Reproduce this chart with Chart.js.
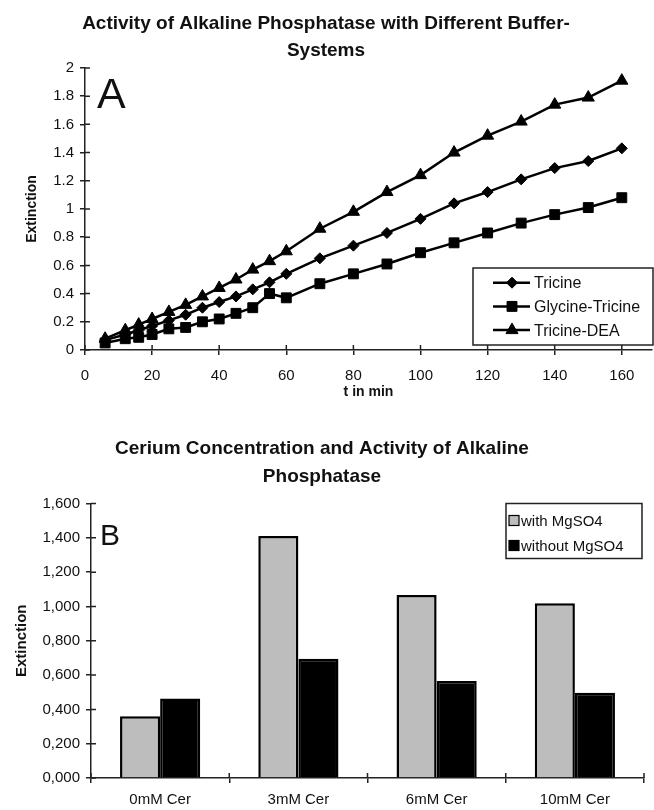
<!DOCTYPE html>
<html>
<head>
<meta charset="utf-8">
<script src="https://cdn.jsdelivr.net/npm/chart.js@4.4.0/dist/chart.umd.min.js"></script>
<style>
  html, body { margin: 0; padding: 0; background: #fff; }
  #wrap { position: relative; width: 654px; height: 810px; }
  #lineChart { position: absolute; left: 0; top: 0; }
  #barChart { position: absolute; left: 0; top: 410px; }
</style>
</head>
<body>
<div id="wrap">
  <canvas id="lineChart" width="654" height="410"></canvas>
  <canvas id="barChart" width="654" height="400"></canvas>
</div>
<script>
// panel A: extinction over time for three buffers
const times = [6, 12, 16, 20, 25, 30, 35, 40, 45, 50, 55, 60, 70, 80, 90, 100, 110, 120, 130, 140, 150, 160];
const tricine = [0.07, 0.11, 0.14, 0.17, 0.21, 0.25, 0.30, 0.34, 0.38, 0.43, 0.48, 0.54, 0.65, 0.74, 0.83, 0.93, 1.04, 1.12, 1.21, 1.29, 1.34, 1.43];
const glycineTricine = [0.05, 0.08, 0.09, 0.11, 0.15, 0.16, 0.20, 0.22, 0.26, 0.30, 0.40, 0.37, 0.47, 0.54, 0.61, 0.69, 0.76, 0.83, 0.90, 0.96, 1.01, 1.08];
const tricineDea = [0.08, 0.14, 0.18, 0.22, 0.27, 0.32, 0.38, 0.44, 0.50, 0.57, 0.63, 0.70, 0.86, 0.98, 1.12, 1.24, 1.40, 1.52, 1.62, 1.74, 1.79, 1.91];

// panel B: cerium concentration
const ceriumLabels = ['0mM Cer', '3mM Cer', '6mM Cer', '10mM Cer'];
const withMgSO4 = [0.36, 1.41, 1.066, 1.018];
const withoutMgSO4 = [0.464, 0.695, 0.565, 0.497];

Chart.defaults.font.family = '"Liberation Sans", Arial, sans-serif';
Chart.defaults.color = '#111';

const axisColor = '#222';

// excel style ticks that cross the axis: chart.js draws the outer half, this the inner half
const crossTicks = {
  id: 'crossTicks',
  afterDraw(chart) {
    const { ctx, chartArea } = chart;
    const len = 5;
    ctx.save();
    ctx.strokeStyle = axisColor;
    ctx.lineWidth = 1.5;
    ctx.beginPath();
    const y = chart.scales.y;
    y.ticks.forEach(t => {
      const py = y.getPixelForValue(t.value);
      ctx.moveTo(chartArea.left, py);
      ctx.lineTo(chartArea.left + len, py);
    });
    const x = chart.scales.x;
    let xs = [];
    if (x.type === 'category') {
      const step = x.getPixelForTick(1) - x.getPixelForTick(0);
      for (let i = 0; i <= x.ticks.length; i++) xs.push(x.getPixelForTick(0) - step / 2 + i * step);
    } else {
      xs = x.ticks.map(t => x.getPixelForValue(t.value));
    }
    xs.forEach(px => {
      ctx.moveTo(px, chartArea.bottom);
      ctx.lineTo(px, chartArea.bottom - len);
    });
    ctx.stroke();
    ctx.restore();
  }
};

const panelLetter = {
  id: 'panelLetter',
  afterDraw(chart, args, opts) {
    const { ctx, chartArea } = chart;
    ctx.save();
    ctx.fillStyle = '#111';
    ctx.font = opts.size + 'px "Liberation Sans", Arial, sans-serif';
    ctx.textBaseline = 'alphabetic';
    ctx.fillText(opts.text, chartArea.left + opts.dx, chartArea.top + opts.dy);
    ctx.restore();
  }
};

// legend box in the lower right corner, line + marker per series
const lineLegend = {
  id: 'lineLegend',
  afterDraw(chart) {
    const { ctx, chartArea } = chart;
    const w = 180, h = 77;
    const x0 = chartArea.right + 1 - w;
    const y0 = chartArea.bottom - 5 - h;
    ctx.save();
    ctx.fillStyle = '#fff';
    ctx.fillRect(x0, y0, w, h);
    ctx.strokeStyle = '#222';
    ctx.lineWidth = 1.5;
    ctx.strokeRect(x0, y0, w, h);
    ctx.font = '16px "Liberation Sans", Arial, sans-serif';
    ctx.textBaseline = 'middle';
    chart.data.datasets.forEach((ds, i) => {
      const cy = y0 + 14.7 + i * 23.7;
      ctx.strokeStyle = '#000';
      ctx.lineWidth = 2.5;
      ctx.beginPath();
      ctx.moveTo(x0 + 20, cy);
      ctx.lineTo(x0 + 57, cy);
      ctx.stroke();
      ctx.fillStyle = '#000';
      ctx.lineWidth = 1;
      Chart.helpers.drawPoint(ctx, { pointStyle: ds.pointStyle, radius: ds.pointRadius, rotation: 0, borderWidth: 1 }, x0 + 39, cy);
      ctx.fillStyle = '#111';
      ctx.fillText(ds.label, x0 + 61, cy + 1);
    });
    ctx.restore();
  }
};

const barLegend = {
  id: 'barLegend',
  afterDraw(chart) {
    const { ctx, chartArea } = chart;
    const w = 136, h = 55;
    const x0 = chartArea.right - 2 - w;
    const y0 = chartArea.top;
    ctx.save();
    ctx.strokeStyle = '#222';
    ctx.lineWidth = 1.5;
    ctx.strokeRect(x0, y0, w, h);
    ctx.font = '15px "Liberation Sans", Arial, sans-serif';
    ctx.textBaseline = 'middle';
    chart.data.datasets.forEach((ds, i) => {
      const cy = y0 + 17 + i * 25;
      ctx.fillStyle = ds.backgroundColor;
      ctx.fillRect(x0 + 3, cy - 5, 10, 10);
      ctx.strokeStyle = '#000';
      ctx.lineWidth = 1.2;
      ctx.strokeRect(x0 + 3, cy - 5, 10, 10);
      ctx.fillStyle = '#111';
      ctx.fillText(ds.label, x0 + 15, cy + 1);
    });
    ctx.restore();
  }
};

function series(label, values, style, radius) {
  return {
    label: label,
    data: times.map((t, i) => ({ x: t, y: values[i] })),
    borderColor: '#000',
    backgroundColor: '#000',
    borderWidth: 2.5,
    pointStyle: style,
    pointRadius: radius,
    pointBorderWidth: 1,
    pointBackgroundColor: '#000',
    pointBorderColor: '#000',
    tension: 0
  };
}

const outerTicks = { drawOnChartArea: false, drawTicks: true, tickLength: 5, color: axisColor, lineWidth: 1.5 };

new Chart(document.getElementById('lineChart'), {
  type: 'line',
  data: {
    datasets: [
      series('Tricine', tricine, 'rectRot', 5.5),
      series('Glycine-Tricine', glycineTricine, 'rect', 7),
      series('Tricine-DEA', tricineDea, 'triangle', 7)
    ]
  },
  options: {
    responsive: false,
    animation: false,
    devicePixelRatio: 1,
    layout: { autoPadding: false, padding: { left: 0, right: 2, top: 0, bottom: 0 } },
    plugins: {
      legend: { display: false },
      tooltip: { enabled: false },
      title: {
        display: true,
        text: ['Activity of Alkaline Phosphatase with Different Buffer-', 'Systems'],
        font: { size: 19, weight: 'bold', lineHeight: 1.42 },
        color: '#111',
        padding: { top: 10.5, bottom: 3.5 }
      },
      panelLetter: { text: 'A', size: 43, dx: 12, dy: 40 }
    },
    scales: {
      x: {
        type: 'linear',
        min: 0,
        max: 169,
        afterFit: s => { s.height = 60; s.paddingLeft = 0; s.paddingRight = 0; },
        ticks: { stepSize: 20, includeBounds: false, autoSkip: false, padding: 12, font: { size: 15 }, color: '#111' },
        grid: outerTicks,
        border: { display: true, color: axisColor, width: 1.5 },
        title: { display: true, text: 't in min', font: { size: 14, weight: 'bold' }, color: '#111', padding: { top: 0, bottom: 9 } }
      },
      y: {
        min: 0,
        max: 2,
        afterFit: s => { s.width = 85; s.paddingTop = 0; s.paddingBottom = 0; },
        ticks: { stepSize: 0.2, padding: 6, font: { size: 15 }, color: '#111', callback: v => String(+v.toFixed(1)) },
        grid: outerTicks,
        border: { display: true, color: axisColor, width: 1.5 },
        title: { display: true, text: 'Extinction', font: { size: 14, weight: 'bold' }, color: '#111', padding: { top: 24, bottom: 0 } }
      }
    }
  },
  plugins: [crossTicks, lineLegend, panelLetter]
});

new Chart(document.getElementById('barChart'), {
  type: 'bar',
  data: {
    labels: ceriumLabels,
    datasets: [
      { label: 'with MgSO4', data: withMgSO4, backgroundColor: '#bdbdbd', borderColor: '#000', borderWidth: 2.5 },
      { label: 'without MgSO4', data: withoutMgSO4, backgroundColor: '#000', borderColor: '#000', borderWidth: 2.5 }
    ]
  },
  options: {
    responsive: false,
    animation: false,
    devicePixelRatio: 1,
    categoryPercentage: 0.58,
    barPercentage: 1,
    layout: { autoPadding: false, padding: { left: 0, right: 10, top: 0, bottom: 0 } },
    plugins: {
      legend: { display: false },
      tooltip: { enabled: false },
      title: {
        display: true,
        text: ['Cerium Concentration and Activity of Alkaline', 'Phosphatase'],
        font: { size: 19, weight: 'bold', lineHeight: 28 / 19 },
        color: '#111',
        padding: { top: 25, bottom: 12.5 }
      },
      panelLetter: { text: 'B', size: 30, dx: 9, dy: 41 }
    },
    scales: {
      x: {
        afterFit: s => { s.height = 32; s.paddingLeft = 0; s.paddingRight = 0; },
        ticks: { padding: 8, font: { size: 15 }, color: '#111' },
        grid: Object.assign({}, outerTicks, { offset: true }),
        border: { display: true, color: axisColor, width: 1.5 }
      },
      y: {
        min: 0,
        max: 1.6,
        afterFit: s => { s.width = 91; s.paddingTop = 0; s.paddingBottom = 0; },
        ticks: { stepSize: 0.2, padding: 6, font: { size: 15 }, color: '#111', callback: v => v.toFixed(3).replace('.', ',') },
        grid: outerTicks,
        border: { display: true, color: axisColor, width: 1.5 },
        title: { display: true, text: 'Extinction', font: { size: 15, weight: 'bold' }, color: '#111', padding: { top: 13, bottom: 0 } }
      }
    }
  },
  plugins: [crossTicks, barLegend, panelLetter]
});
</script>
</body>
</html>
